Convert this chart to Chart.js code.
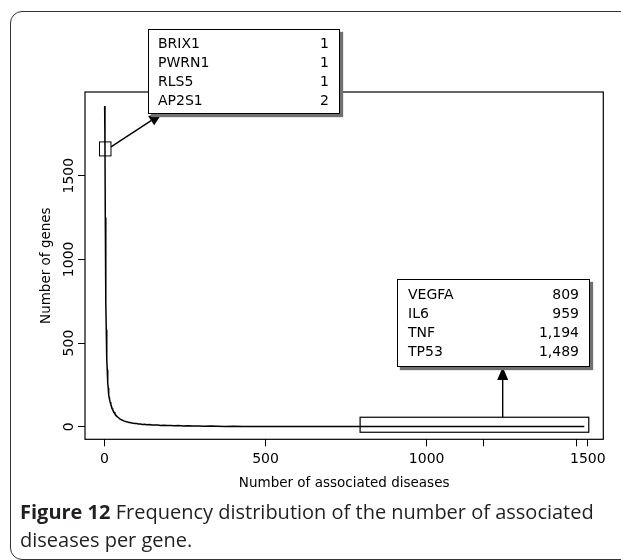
<!DOCTYPE html>
<html>
<head>
<meta charset="utf-8">
<script src="https://cdn.jsdelivr.net/npm/chart.js@4.4.1/dist/chart.umd.min.js"></script>
<style>
html,body{margin:0;padding:0;background:#fff;}
body{width:621px;height:560px;position:relative;overflow:hidden;}
#frame{position:absolute;left:10px;top:11px;width:700px;height:549px;border:1.5px solid #333;border-radius:12px;box-sizing:border-box;}
#wrap{position:absolute;left:0;top:0;width:621px;height:560px;}
.note{position:absolute;background:#fff;border:1px solid #000;box-shadow:3px 3px 1px #707070;box-sizing:border-box;font-family:'DejaVu Sans';font-size:14px;color:#000;}
.note table{border-collapse:collapse;width:100%;}
.note td{padding:0;line-height:19px;height:19px;white-space:nowrap;}
.note td.v{text-align:right;}
#caption{position:absolute;left:20px;top:498px;font-family:'Open Sans';font-size:20px;line-height:28px;color:#231f20;white-space:nowrap;}
#caption b{font-weight:700;}
</style>
</head>
<body>
<div id="frame"></div>
<div id="wrap"><canvas id="c" width="621" height="560"></canvas></div>
<div class="note" id="noteLow" style="left:148px;top:29px;width:192px;height:85px;padding:4px 10px 0 9px;"></div>
<div class="note" id="noteHigh" style="left:397px;top:279px;width:193px;height:88px;padding:5px 10px 0 10px;"></div>
<div id="caption"><b>Figure 12</b> Frequency distribution of the number of associated<br>diseases per gene.</div>
<script>
// ---- data ----
const diseaseCounts = [1,2,3,4,5,6,7,8,9,10,11,12,13,14,15,16,18,20,22,24,26,28,30,33,36,39,42,45,48,52,56,60,64,68,72,76,80,85,90,95,100,106,112,118,125,132,140,148,157,166,175,185,195,205,218,230,245,260,275,290,310,330,350,375,400,430,460,500,540,580,630,680,740,809,880,959,1050,1194,1300,1489];
const geneCounts = [1916,1660,1250,950,740,580,470,400,340,295,262,232,210,190,176,165,148,134,122,110,101,93,86,76,69,62,57,52,47,43,39,35,33,30,29,26,25,22,21,19,20,17,16,14,15,12,13,11,10,11,8,9,7,8,6,7,5,6,4,5,3,4,3,2,3,2,2,1,2,1,1,1,1,1,1,1,1,1,1,1];
const xTickValues = [0,500,1000,1500];
const xExtraTicks = [1175,1465];
const yTickValues = [0,500,1000,1500];
const lowGenes = ['BRIX1','PWRN1','RLS5','AP2S1'];
const lowGeneDiseases = [1,1,1,2];
const highGenes = ['VEGFA','IL6','TNF','TP53'];
const highGeneDiseases = [809,959,1194,1489];

function fillNote(id, names, vals){
  const rows = names.map((n,i)=>'<tr><td>'+n+'</td><td class="v">'+vals[i].toLocaleString('en-US')+'</td></tr>').join('');
  document.getElementById(id).innerHTML = '<table>'+rows+'</table>';
}
fillNote('noteLow', lowGenes, lowGeneDiseases);
fillNote('noteHigh', highGenes, highGeneDiseases);

function arrow(ctx, x1, y1, x2, y2, len, half){
  const ang = Math.atan2(y2-y1, x2-x1);
  const bx = x2 - len*Math.cos(ang), by = y2 - len*Math.sin(ang);
  ctx.beginPath(); ctx.moveTo(x1,y1); ctx.lineTo(bx,by); ctx.stroke();
  ctx.beginPath();
  ctx.moveTo(x2,y2);
  ctx.lineTo(bx + half*Math.sin(ang), by - half*Math.cos(ang));
  ctx.lineTo(bx - half*Math.sin(ang), by + half*Math.cos(ang));
  ctx.closePath(); ctx.fill();
}

const annot = {
  id:'annot',
  afterDraw(chart){
    const {ctx, chartArea:a, scales:{x,y}} = chart;
    ctx.save();
    ctx.strokeStyle='#000'; ctx.fillStyle='#000';
    ctx.lineWidth=1.2;
    ctx.strokeRect(a.left, a.top, a.right-a.left, a.bottom-a.top);
    // small highlight square around the low-count peak
    const cx = x.getPixelForValue(diseaseCounts[1]);
    const cy = y.getPixelForValue(geneCounts[1]);
    ctx.lineWidth=1;
    ctx.strokeRect(cx-5.5, cy-7, 11.5, 14);
    ctx.lineWidth=1.4;
    arrow(ctx, cx+6, cy-2, 162, 113.5, 13, 5.5);
    // wide highlight box around the high-count tail
    const y0 = y.getPixelForValue(0);
    const lx = x.getPixelForValue(highGeneDiseases[0]) - 5;
    const rx = x.getPixelForValue(highGeneDiseases[highGeneDiseases.length-1]) + 4.5;
    ctx.lineWidth=1.2;
    ctx.strokeRect(lx, y0-9.5, rx-lx, 15);
    ctx.lineWidth=1.4;
    arrow(ctx, 502.7, y0-9.5, 502.7, 367, 13, 5.5);
    ctx.restore();
  }
};

const tickFont = {family:'DejaVu Sans', size:14};
new Chart(document.getElementById('c'), {
  type:'scatter',
  data:{datasets:[{
    data: diseaseCounts.map((v,i)=>({x:v, y:geneCounts[i]})),
    showLine:true, borderColor:'#000', borderWidth:1.5, pointRadius:0, tension:0, fill:false
  }]},
  options:{
    responsive:false, animation:false, devicePixelRatio:1,
    layout:{padding:{top:92, right:17.7, left:0, bottom:0}},
    plugins:{legend:{display:false}, tooltip:{enabled:false}},
    scales:{
      x:{
        type:'linear', min:-60, max:1548,
        afterBuildTicks:s=>{ s.ticks = xTickValues.concat(xExtraTicks).map(v=>({value:v})); },
        afterFit:s=>{ s.height = 120.7; },
        ticks:{autoSkip:false, maxRotation:0, minRotation:0, padding:5, color:'#000', font:tickFont,
          callback:v=> xTickValues.includes(v) ? String(v) : ''},
        grid:{drawOnChartArea:false, tickLength:7, color:'#000', lineWidth:1},
        border:{display:false},
        title:{display:true, text:'Number of associated diseases', color:'#000', font:{family:'DejaVu Sans', size:13.5}, padding:{top:0, bottom:68}}
      },
      y:{
        type:'linear', min:-75, max:2000,
        afterBuildTicks:s=>{ s.ticks = yTickValues.map(v=>({value:v})); },
        afterFit:s=>{ s.width = 85; },
        ticks:{minRotation:90, maxRotation:90, crossAlign:'center', padding:-9.5, color:'#000', font:tickFont,
          callback:v=> String(v)},
        grid:{drawOnChartArea:false, tickLength:7, color:'#000', lineWidth:1},
        border:{display:false},
        title:{display:true, text:'Number of genes', color:'#000', font:{family:'DejaVu Sans', size:13.5}, padding:{top:38, bottom:0}}
      }
    }
  },
  plugins:[annot]
});
</script>
</body>
</html>
